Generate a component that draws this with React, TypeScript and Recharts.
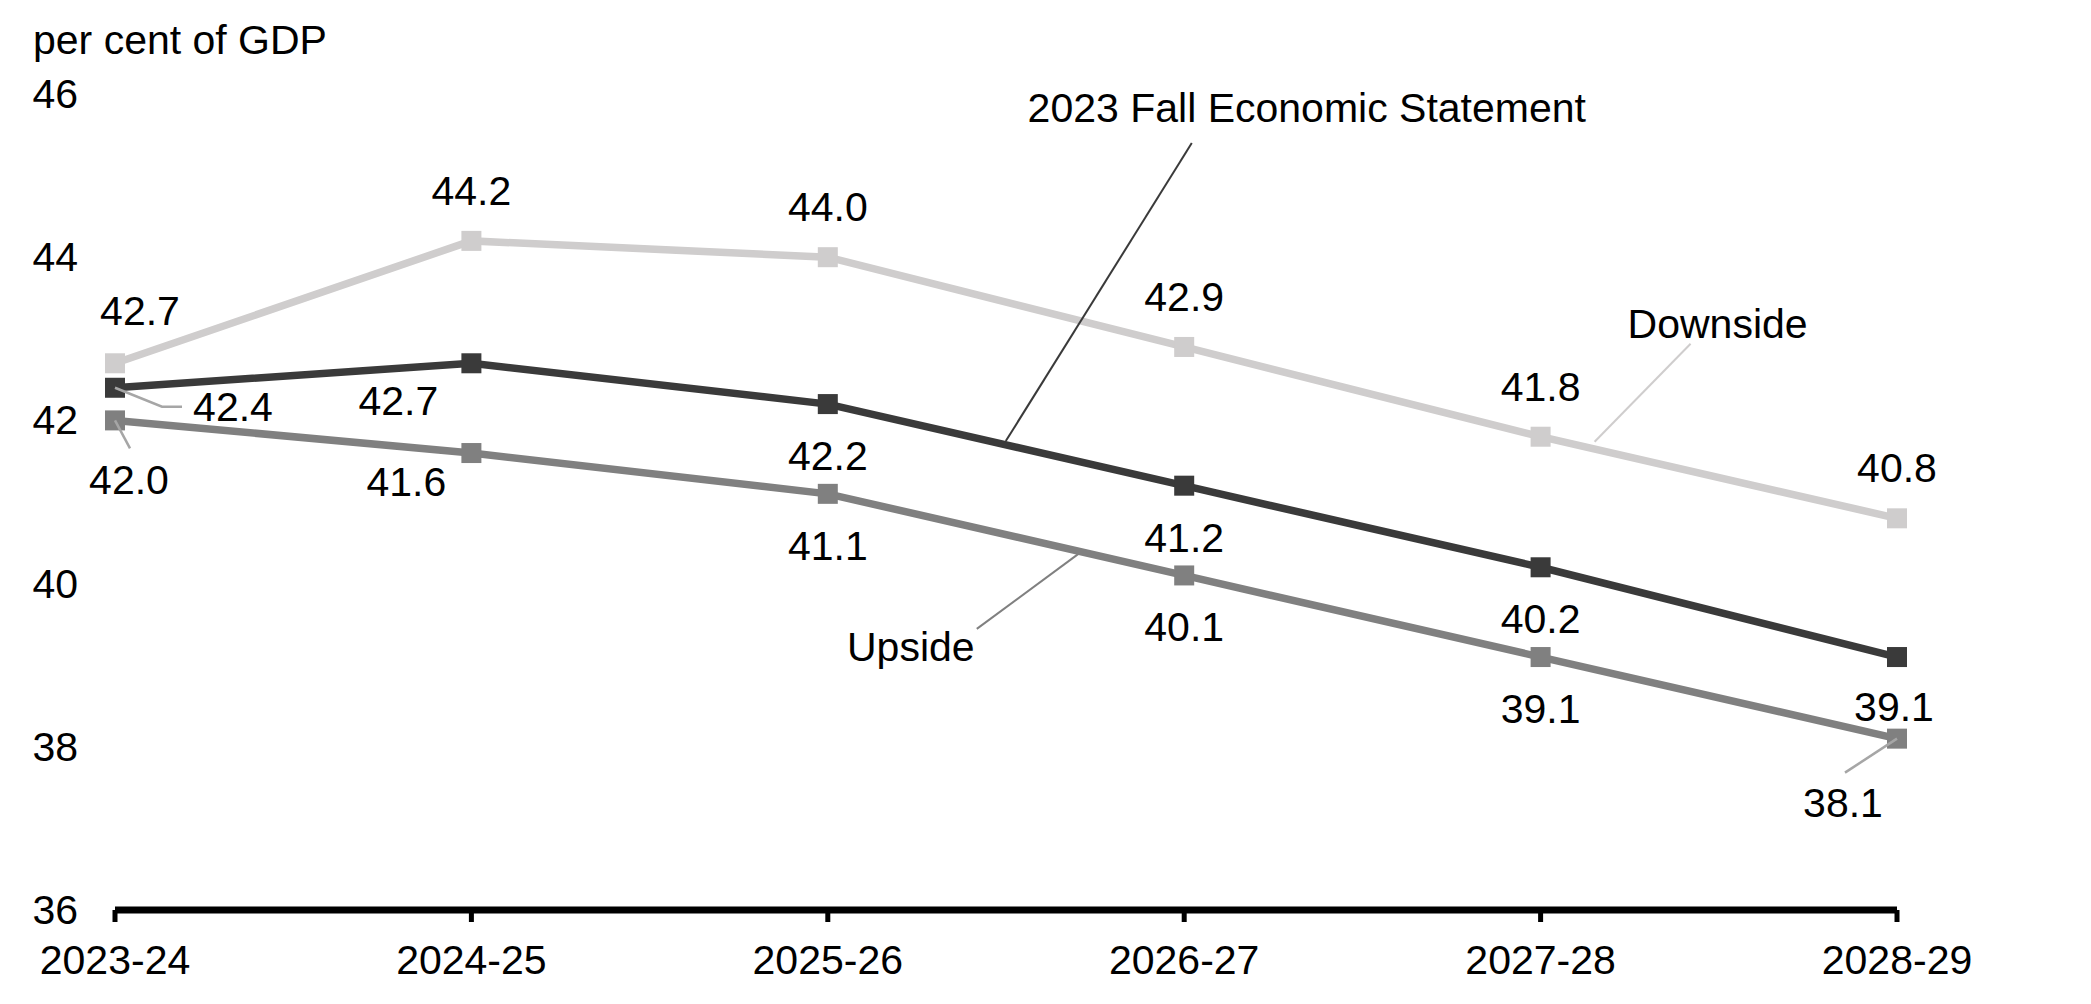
import React from "react";
import { LineChart, Line, XAxis, YAxis, LabelList } from "recharts";

const categories = ["2023-24", "2024-25", "2025-26", "2026-27", "2027-28", "2028-29"];
const downside = [42.7, 44.2, 44.0, 42.9, 41.8, 40.8];
const fallStatement = [42.4, 42.7, 42.2, 41.2, 40.2, 39.1];
const upside = [42.0, 41.6, 41.1, 40.1, 39.1, 38.1];
const yTicks = [36, 38, 40, 42, 44, 46];

const data = categories.map((year, i) => ({
  year,
  downside: downside[i],
  fes: fallStatement[i],
  upside: upside[i],
}));

const FONT = "'Liberation Sans', Arial, sans-serif";
const FS = 41;

// label offsets from each point (dx, dy of text centre)
const downsideOffsets = [[25, -52], [0, -50], [0, -50], [0, -50], [0, -50], [0, -50]];
const fesOffsets = [[118, 19], [-73, 38], [0, 52], [0, 52], [0, 52], [-3, 50]];
const upsideOffsets = [[14, 60], [-65, 29], [0, 52], [0, 52], [0, 52], [-54, 64]];

const fesLeaders: Record<number, number[][]> = { 0: [[0, 0], [47, 19], [67, 19]] };
const upsideLeaders: Record<number, number[][]> = { 0: [[0, 0], [15, 28]], 5: [[0, 0], [-52, 34]] };

// series name tags hung off one point of each line
const tags = {
  downside: { index: 4, text: "Downside", color: "#cfcdcd", leader: [[54, 5], [150, -93]], pos: [177, -113] },
  fes: { index: 2, text: "2023 Fall Economic Statement", color: "#3a3a3a", leader: [[178, 37], [364, -261]], pos: [479, -296] },
  upside: { index: 2, text: "Upside", color: "#808080", leader: [[252, 59], [149, 135]], pos: [83, 153] },
};

function makeLabel(offsets: number[][], leaders: Record<number, number[][]>, tag: any) {
  return (props: any) => {
    const { x, y, index, value } = props;
    const [dx, dy] = offsets[index];
    const lead = leaders[index];
    return (
      <g>
        {lead && (
          <polyline
            points={lead.map(([a, b]) => `${x + a},${y + b}`).join(" ")}
            fill="none"
            stroke="#a6a6a6"
            strokeWidth={2.5}
          />
        )}
        <text x={x + dx} y={y + dy} textAnchor="middle" dominantBaseline="central" fontSize={FS} fontFamily={FONT} fill="#000">
          {Number(value).toFixed(1)}
        </text>
        {tag && tag.index === index && (
          <g>
            <line
              x1={x + tag.leader[0][0]}
              y1={y + tag.leader[0][1]}
              x2={x + tag.leader[1][0]}
              y2={y + tag.leader[1][1]}
              stroke={tag.color}
              strokeWidth={2}
            />
            <text x={x + tag.pos[0]} y={y + tag.pos[1]} textAnchor="middle" dominantBaseline="central" fontSize={FS} fontFamily={FONT} fill="#000">
              {tag.text}
            </text>
          </g>
        )}
      </g>
    );
  };
}

const squareDot = (color: string) => (props: any) => {
  const { cx, cy, index } = props;
  return <rect key={`d-${color}-${index}`} x={cx - 10} y={cy - 10} width={20} height={20} fill={color} />;
};

const XTick = (props: any) => {
  const { x, y, payload } = props;
  return (
    <text x={x} y={y + 36} textAnchor="middle" dominantBaseline="central" fontSize={FS} fontFamily={FONT} fill="#000">
      {payload.value}
    </text>
  );
};

const YTick = (props: any) => {
  const { y, payload } = props;
  return (
    <text x={78} y={y} textAnchor="end" dominantBaseline="central" fontSize={FS} fontFamily={FONT} fill="#000">
      {payload.value}
    </text>
  );
};

export default function App() {
  return (
    <div style={{ position: "absolute", left: 0, top: 0, width: 2091, height: 1004, background: "#fff" }}>
      <LineChart width={2091} height={1004} data={data} margin={{ top: 94, right: 194, bottom: 14, left: 0 }}>
        <XAxis
          dataKey="year"
          scale="point"
          padding={{ left: 0, right: 0 }}
          height={80}
          axisLine={{ stroke: "#000", strokeWidth: 7 }}
          tickLine={{ stroke: "#000", strokeWidth: 5 }}
          tickSize={12}
          tick={<XTick />}
          interval={0}
        />
        <YAxis
          domain={[36, 46]}
          ticks={yTicks}
          width={115}
          axisLine={false}
          tickLine={false}
          tick={<YTick />}
          interval={0}
        />
        <text x={33} y={54} fontSize={FS} fontFamily={FONT} fill="#000">
          per cent of GDP
        </text>
        <Line
          dataKey="downside"
          stroke="#cfcdcd"
          strokeWidth={7.5}
          dot={squareDot("#cfcdcd")}
          activeDot={false}
          isAnimationActive={false}
        >
          <LabelList dataKey="downside" content={makeLabel(downsideOffsets, {}, tags.downside)} />
        </Line>
        <Line
          dataKey="fes"
          stroke="#3a3a3a"
          strokeWidth={7.5}
          dot={squareDot("#3a3a3a")}
          activeDot={false}
          isAnimationActive={false}
        >
          <LabelList dataKey="fes" content={makeLabel(fesOffsets, fesLeaders, tags.fes)} />
        </Line>
        <Line
          dataKey="upside"
          stroke="#808080"
          strokeWidth={7.5}
          dot={squareDot("#808080")}
          activeDot={false}
          isAnimationActive={false}
        >
          <LabelList dataKey="upside" content={makeLabel(upsideOffsets, upsideLeaders, tags.upside)} />
        </Line>
      </LineChart>
    </div>
  );
}
